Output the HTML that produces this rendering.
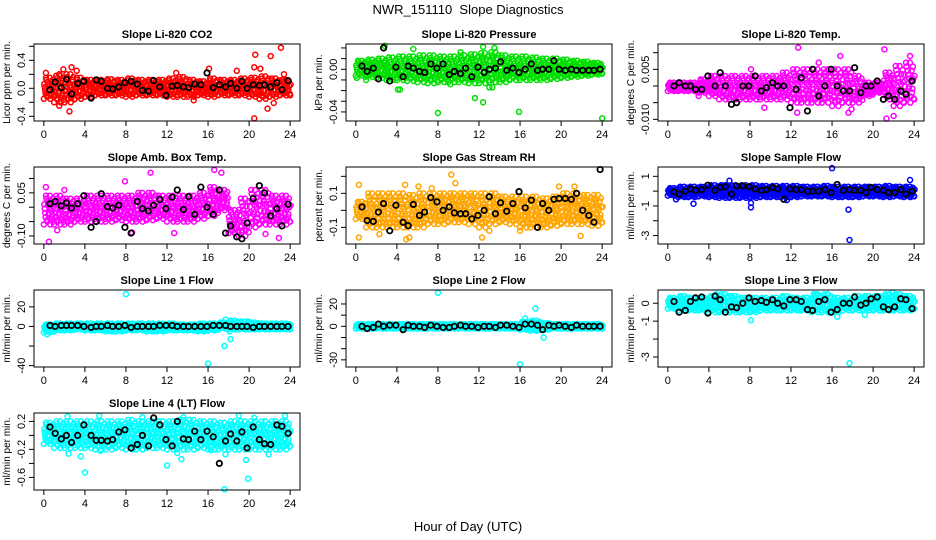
<!DOCTYPE html>
<html><head><meta charset="utf-8"><style>
html,body{margin:0;padding:0;background:#fff}
svg{display:block}
text{font-family:"Liberation Sans",sans-serif;fill:#000}
</style></head><body>
<svg id="chart" width="936" height="540" viewBox="0 0 936 540" xmlns="http://www.w3.org/2000/svg">
<text x="468" y="14" text-anchor="middle" font-size="13">NWR_151110&#160; Slope Diagnostics</text>
<text x="468" y="531" text-anchor="middle" font-size="13">Hour of Day (UTC)</text>
</svg>
<script>
const xTicks=[0,4,8,12,16,20,24];
const blackTimes=[0.6,1.1,1.7,2.2,2.7,3.3,3.9,4.6,5.1,5.6,6.2,6.7,7.3,7.9,8.5,9.1,9.6,10.2,10.7,11.3,11.9,12.5,13.0,13.6,14.1,14.7,15.3,15.9,16.5,17.1,17.7,18.2,18.8,19.3,19.8,20.4,21.0,21.5,22.1,22.7,23.2,23.8];
const titles=["Slope Li-820 CO2","Slope Li-820 Pressure","Slope Li-820 Temp.","Slope Amb. Box Temp.","Slope Gas Stream RH","Slope Sample Flow","Slope Line 1 Flow","Slope Line 2 Flow","Slope Line 3 Flow","Slope Line 4 (LT) Flow"];
const yTitles=["Licor ppm per min.","kPa per min.","degrees C per min.","degrees C per min.","percent per min.","ml/min per min.","ml/min per min.","ml/min per min.","ml/min per min.","ml/min per min."];
const colors=["#ff0000","#00e000","#ff00ff","#ff00ff","#ffa500","#0000ff","#00ffff","#00ffff","#00ffff","#00ffff"];
const yLims=[[-0.467,0.633],[-0.0485,0.0237],[-0.0105,0.0126],[-0.128,0.14],[-0.198,0.255],[-3.57,1.63],[-41.4,37.2],[-36.4,32.5],[-3.56,0.74],[-0.78,0.32]];
const yTicks=[[-0.4,-0.2,0,0.2,0.4,0.6],[-0.04,-0.03,-0.02,-0.01,0,0.01,0.02],[-0.01,-0.005,0,0.005,0.01],[-0.1,-0.05,0,0.05,0.1],[-0.1,0,0.1,0.2],[-3,-2,-1,0,1],[-40,-20,0,20],[-30,-20,-10,0,10,20],[-3,-2,-1,0],[-0.6,-0.4,-0.2,0,0.2]];
const yTickLabels=[["-0.4","","0.0","","0.4",""],["-0.04","","","","0.00","",""],["-0.010","","","0.005",""],["-0.10","","","0.05",""],["-0.1","","0.1",""],["-3","","-1","","1"],["-40","","0","20"],["-30","","","0","","20"],["-3","","-1","0"],["-0.6","","-0.2","","0.2"]];
const bandLo=[
[-0.15,-0.2,-0.2,-0.15,-0.12,-0.1,-0.1,-0.1,-0.12,-0.1,-0.1,-0.1,-0.12,-0.12,-0.12,-0.1,-0.12,-0.1,-0.1,-0.1,-0.12,-0.15,-0.12,-0.1,-0.1],
[-0.006,-0.007,-0.008,-0.01,-0.01,-0.011,-0.012,-0.013,-0.012,-0.012,-0.012,-0.013,-0.013,-0.012,-0.012,-0.01,-0.01,-0.01,-0.01,-0.009,-0.008,-0.007,-0.006,-0.005,-0.004],
[-0.0015,-0.0015,-0.0015,-0.002,-0.003,-0.004,-0.004,-0.004,-0.004,-0.004,-0.004,-0.004,-0.005,-0.005,-0.005,-0.005,-0.006,-0.005,-0.005,-0.003,-0.002,-0.004,-0.006,-0.005,-0.004],
[-0.06,-0.06,-0.06,-0.05,-0.05,-0.05,-0.05,-0.045,-0.05,-0.05,-0.045,-0.04,-0.05,-0.05,-0.05,-0.04,-0.03,-0.01,-0.09,-0.1,-0.07,-0.06,-0.06,-0.06,-0.05],
[-0.05,-0.1,-0.1,-0.1,-0.1,-0.1,-0.1,-0.08,-0.08,-0.07,-0.07,-0.08,-0.1,-0.08,-0.07,-0.08,-0.1,-0.1,-0.1,-0.09,-0.08,-0.08,-0.08,-0.09,-0.07],
[-0.3,-0.4,-0.4,-0.35,-0.4,-0.45,-0.45,-0.45,-0.45,-0.4,-0.4,-0.4,-0.4,-0.35,-0.35,-0.35,-0.4,-0.4,-0.4,-0.35,-0.35,-0.4,-0.35,-0.4,-0.35],
[-6,-4,-4,-3,-4,-4,-5,-5,-4,-4,-5,-5,-4,-4,-4,-5,-4,-2,-3,-3,-3,-3,-3,-3,-3],
[-2,-2,-2,-2,-2,-2,-2,-2,-2,-2,-2,-2,-2,-2,-2,-2,-3,-4,-3,-2,-2,-2,-2,-2,-2],
[-0.3,-0.4,-0.4,-0.4,-0.5,-0.5,-0.5,-0.5,-0.5,-0.4,-0.4,-0.4,-0.4,-0.4,-0.5,-0.5,-0.5,-0.4,-0.4,-0.4,-0.4,-0.4,-0.4,-0.4,-0.3],
[-0.12,-0.18,-0.18,-0.18,-0.18,-0.2,-0.2,-0.18,-0.2,-0.2,-0.18,-0.18,-0.2,-0.2,-0.2,-0.18,-0.2,-0.2,-0.2,-0.2,-0.2,-0.2,-0.2,-0.2,-0.15]];
const bandHi=[
[0.15,0.18,0.2,0.15,0.12,0.12,0.13,0.12,0.14,0.12,0.12,0.12,0.14,0.16,0.12,0.1,0.14,0.12,0.12,0.14,0.15,0.17,0.14,0.12,0.12],
[0.008,0.009,0.01,0.011,0.012,0.012,0.013,0.013,0.012,0.012,0.013,0.014,0.015,0.016,0.013,0.012,0.012,0.011,0.01,0.01,0.009,0.008,0.007,0.006,0.004],
[0.001,0.001,0.001,0.002,0.003,0.003,0.003,0.003,0.003,0.003,0.003,0.004,0.005,0.005,0.005,0.005,0.005,0.005,0.003,0.001,0.001,0.004,0.006,0.007,0.006],
[0.04,0.04,0.03,0.03,0.04,0.04,0.04,0.04,0.04,0.05,0.05,0.04,0.04,0.04,0.04,0.05,0.07,0.06,-0.01,0.03,0.06,0.06,0.04,0.04,0.03],
[0.05,0.1,0.1,0.1,0.1,0.09,0.1,0.1,0.1,0.1,0.1,0.1,0.1,0.1,0.08,0.08,0.08,0.08,0.07,0.08,0.1,0.1,0.09,0.09,0.06],
[0.2,0.3,0.3,0.3,0.4,0.4,0.4,0.4,0.4,0.35,0.35,0.35,0.35,0.3,0.3,0.35,0.3,0.3,0.3,0.3,0.3,0.35,0.3,0.3,0.3],
[2,3,3,3,3,3,3,3,3,3,3,3,3,2,2,3,3,4,6,5,4,3,3,3,3],
[2,2,2,2,2,2,2,2,2,2,2,2,2,2,2,2,4,5,3,2,2,2,2,2,2],
[0.3,0.4,0.3,0.3,0.4,0.5,0.4,0.3,0.3,0.3,0.3,0.4,0.3,0.3,0.5,0.5,0.3,0.3,0.4,0.4,0.4,0.5,0.5,0.4,0.3],
[0.18,0.2,0.2,0.2,0.2,0.2,0.2,0.2,0.22,0.2,0.2,0.2,0.2,0.22,0.22,0.2,0.2,0.18,0.2,0.2,0.2,0.2,0.2,0.2,0.15]];
const outliers=[
[[0.2,0.22],[1.5,0.2],[1.9,0.27],[2.7,0.3],[3.2,0.25],[1.5,-0.25],[2.5,-0.33],[2.0,-0.2],[16.1,0.28],[18.8,0.25],[20.6,0.48],[20.5,0.3],[21.1,0.28],[22.1,0.46],[23.1,0.58],[20.5,-0.43],[21.8,-0.29],[22.4,-0.21],[23.4,0.2],[14.6,-0.17],[12.9,0.22]],
[[0.1,-0.008],[2.8,0.022],[5.6,0.019],[8.0,-0.041],[11.6,-0.027],[12.4,-0.031],[12.4,0.021],[13.5,0.02],[15.9,-0.04],[24,-0.046],[4.1,-0.019],[4.3,-0.019],[13,-0.017],[13.3,-0.017],[10.2,0.016],[1.0,-0.01],[9.2,-0.014]],
[[12.7,0.0115],[16.8,0.009],[21.1,0.011],[23.6,0.009],[21.3,-0.0098],[22.0,-0.009],[17.6,-0.008],[17.9,-0.007],[12.6,-0.008],[9.4,-0.0065],[6.0,-0.004],[3.0,-0.003],[8.1,0.005],[14.7,0.007]],
[[0.5,-0.12],[10.4,0.12],[16.6,0.13],[17.3,0.12],[7.9,0.09],[12.7,-0.09],[21.6,-0.093],[22.9,-0.107],[8.6,-0.088],[1.3,-0.08],[2,0.06],[0.2,0.07]],
[[0.3,-0.16],[0.3,0.15],[4.9,-0.17],[5.2,-0.16],[9.3,0.21],[9.7,0.16],[12.3,-0.16],[21.9,-0.15],[4.8,0.15],[6.1,0.14],[7.4,0.13],[19.8,0.14],[21.3,0.14],[2.3,-0.14],[13,-0.12],[16,-0.12]],
[[16,1.55],[17.6,-1.25],[17.7,-3.3],[8.1,-0.8],[8.1,-1.1],[2.5,-0.85],[6,0.7],[23.6,0.75],[0.8,-0.55],[11.6,-0.6]],
[[8,33],[16,-38],[17.6,-20],[18.2,-13],[18.1,-5],[17.7,7],[0.3,-8],[19.9,5]],
[[8,30],[16,-34],[17.5,16],[18.3,-10],[16.5,7],[17.2,4]],
[[8.1,-0.95],[16.5,-0.75],[19.2,-0.65],[17.7,-3.35],[21.9,0.6],[4.7,0.5],[14.4,0.5]],
[[4,-0.53],[3.6,-0.3],[2.4,-0.26],[5.5,-0.22],[12,-0.43],[13,-0.25],[13.4,-0.34],[17.6,-0.77],[19.7,-0.35],[19.9,-0.62],[19,0.28],[23.5,0.28],[5.4,0.28],[2.3,0.27],[9.6,0.26],[13.6,0.26],[20.5,0.25],[21.9,-0.27],[17.7,-0.27],[16.3,-0.21]]];
const blackVals=[
[-0.02,0.09,0.01,0.13,-0.08,0.07,0.1,-0.14,0.12,0.1,0,-0.01,0.02,0.08,0.1,0.06,-0.03,-0.04,0.11,0.02,-0.1,0.03,0.04,0.02,0.01,0.06,0.05,0.22,0.01,0.05,0.02,0.07,0.0,0.1,0,0.05,0.04,0.05,0.02,0.08,-0.02,0.11],
[0.003,-0.002,0.001,-0.009,0.02,-0.011,0.002,-0.007,0.003,0.001,-0.002,-0.003,0.005,0.001,0.005,-0.005,-0.002,-0.004,0.001,-0.007,0.002,-0.003,0.0,0.001,0.007,-0.001,0.001,-0.003,0.0,0.005,-0.001,0.0,0.0,0.008,0.0,-0.001,0.0,-0.001,-0.001,-0.001,-0.001,0.0],
[0.0,0.001,0.0,0.0,-0.001,-0.001,0.003,0.0,0.004,0.0,-0.0055,-0.005,0.0,0.0,0.003,-0.0015,-0.0005,0.001,0.0,0.0,-0.0065,-0.001,0.0025,-0.0075,0.005,-0.003,0.0,0.005,0.0,-0.0015,-0.0015,0.0055,-0.002,0.0,0.0,0.0015,-0.004,-0.003,-0.004,-0.0015,-0.0025,0.0015],
[0.012,0.02,0.005,0.015,-0.003,0.012,0.04,-0.07,-0.05,0.047,0.002,-0.003,0.007,-0.07,-0.09,0.02,-0.005,-0.013,0.007,0.027,-0.005,0.035,0.06,-0.008,0.037,-0.025,0.07,0.0,-0.025,0.06,-0.09,-0.065,-0.103,-0.11,-0.055,0.03,0.075,0.05,-0.03,-0.005,-0.065,0.01],
[0.02,-0.06,-0.065,-0.01,0.04,-0.12,0.03,-0.07,-0.09,0.035,-0.03,-0.01,0.075,0.05,0.0,0.02,-0.015,-0.02,-0.02,-0.05,-0.03,0.0,0.08,-0.02,0.045,-0.005,0.04,0.11,0.015,0.06,-0.1,0.04,0.0,0.065,0.07,0.07,0.065,0.1,0.0,-0.03,-0.07,0.24],
[-0.05,-0.2,0.0,0.15,0.05,0.1,0.4,0.05,0.25,0.3,-0.2,0.35,0.35,0.3,0.15,0.05,0.1,0.25,0.15,-0.55,0.15,0.1,0.1,0.0,0.0,0.0,0.1,-0.1,0.45,0.05,0.1,0.05,0.05,-0.1,0.25,0.1,0.05,-0.1,-0.1,0.1,-0.2,0.0],
[1,0,1,1,1,1,0,-1,0,0,1,0,0,1,-1,0,0,0,0,1,1,1,0,0,0,0,0,0,1,1,1,0,0,0,0,-1,0,0,0,0,0,0],
[0,-2,-1,2,0,1,1,-3,1,0,0,-1,1,0,-1,-1,0,1,0,0,-1,0,0,-1,1,1,0,-1,2,2,1,-3,1,0,1,0,-1,1,0,0,0,0],
[0.1,-0.5,-0.4,0.1,0.3,0.35,-0.55,0.4,0.2,-0.5,-0.2,-0.25,0.0,0.3,0.1,0.15,0.05,0.2,0.0,-0.15,0.2,0.2,0.1,-0.35,-0.4,0.1,0.2,-0.5,-0.35,0.0,0.0,0.35,-0.1,0.0,0.25,0.35,-0.2,-0.35,-0.2,0.25,0.2,-0.3],
[0.12,0.03,-0.05,0.0,-0.1,0.0,0.15,0.0,-0.07,-0.07,-0.08,-0.06,0.05,0.08,-0.18,-0.13,0.0,-0.15,0.25,0.15,-0.06,-0.15,0.2,-0.05,-0.06,0.06,-0.06,0.06,-0.02,-0.4,-0.08,0.02,-0.08,0.05,-0.18,0.12,-0.06,-0.12,-0.13,0.15,0.13,0.03]];

const NS="http://www.w3.org/2000/svg";
const svg=document.getElementById('chart');
const colX=[34,346,658], rowY=[44,167,290,413], W=266, H=77;
const fracs=[0,.55,.25,.9,.1,.7,.4,1,.15,.8,.35,.6];
function mk(tag,attrs,parent){const e=document.createElementNS(NS,tag);for(const k in attrs)e.setAttribute(k,attrs[k]);(parent||svg).appendChild(e);return e;}
const slug=s=>s.toLowerCase().replace(/[^a-z0-9]+/g,'-').replace(/^-|-$/g,'');
titles.forEach((title,p)=>{
  const x0=colX[p%3], y0=rowY[Math.floor(p/3)];
  const [ymin,ymax]=yLims[p];
  const sx=h=>x0+(h+0.96)*W/25.92;
  const sy=v=>y0+H-(v-ymin)/(ymax-ymin)*H;
  const g=mk('g',{});
  
  
  const t=mk('text',{x:x0+W/2,y:y0-6,'text-anchor':'middle','font-size':'11','font-weight':'bold'},g);
  t.textContent=title;
  
  
  const cg=mk('g',{fill:'none',stroke:colors[p],'stroke-width':'1.5'},g);
  
  
  for(let i=0;i<25;i++){
    const nb=i===24?1:12;
    for(let j=0;j<nb;j++){
      const lo=bandLo[p][i], hi=bandHi[p][i];
      const c=mk('circle',{cx:sx(i+j/12),cy:sy(lo+(hi-lo)*fracs[j]),r:2.5},cg);
      
      
      const c2=mk('circle',{cx:sx(i+j/12+0.04),cy:sy(lo+(hi-lo)*fracs[(j+5)%12]),r:2.5},cg);
      
      
    }
  }
  outliers[p].forEach(([h,v])=>{
    const c=mk('circle',{cx:sx(h),cy:sy(v),r:2.5},cg);
    
    
  });
  const bg=mk('g',{fill:'none',stroke:'#000','stroke-width':'1.8'},g);
  
  
  blackTimes.forEach((h,i)=>{
    const c=mk('circle',{cx:sx(h),cy:sy(blackVals[p][i]),r:2.7},bg);
    
    
  });
  const box=mk('rect',{x:x0,y:y0,width:W,height:H,fill:'none',stroke:'#000','stroke-width':'1'},g);
  
  
  xTicks.forEach(h=>{
    mk('line',{x1:sx(h),x2:sx(h),y1:y0+H,y2:y0+H+5,stroke:'#000'},g);
    const l=mk('text',{x:sx(h),y:y0+H+17,'text-anchor':'middle','font-size':'11'},g);
    l.textContent=h;
    
    
  });
  yTicks[p].forEach((v,i)=>{
    if(v<ymin||v>ymax)return;
    mk('line',{x1:x0-5,x2:x0,y1:sy(v),y2:sy(v),stroke:'#000'},g);
    const lab=yTickLabels[p][i];
    if(lab){
      const l=mk('text',{x:x0-9,y:sy(v),'text-anchor':'middle','font-size':'11',transform:`rotate(-90 ${x0-9} ${sy(v)})`},g);
      l.textContent=lab;
      
      
    }
  });
  const yt=mk('text',{x:x0-24,y:y0+H/2,'text-anchor':'middle','font-size':'10',transform:`rotate(-90 ${x0-24} ${y0+H/2})`},g);
  yt.textContent=yTitles[p];
  
  
});
</script>
</body></html>
